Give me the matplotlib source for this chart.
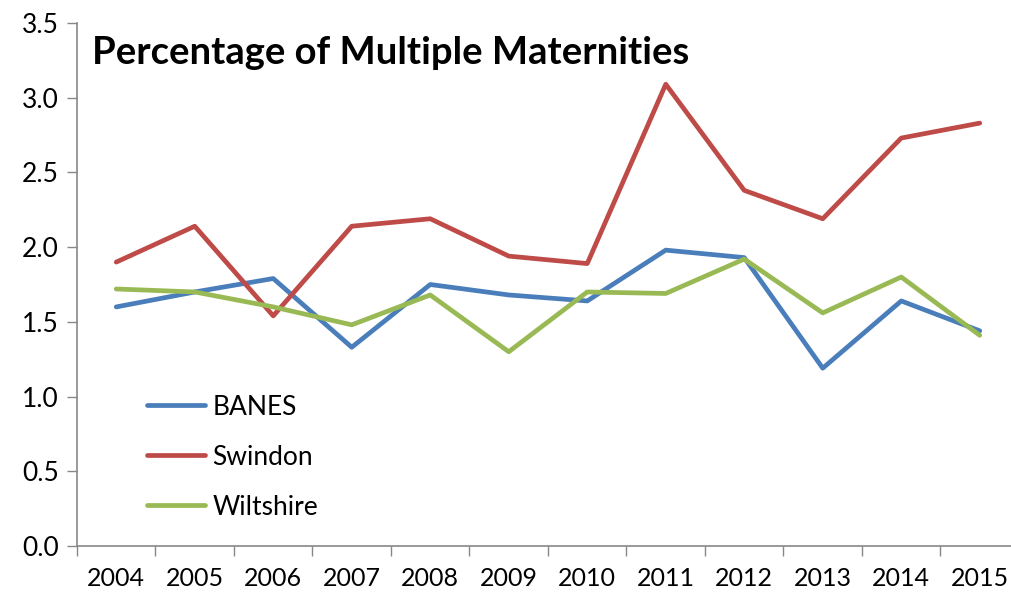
import matplotlib
matplotlib.use("Agg")
import matplotlib.pyplot as plt
import numpy as np

years = ["2004", "2005", "2006", "2007", "2008", "2009", "2010", "2011", "2012", "2013", "2014", "2015"]
banes = [1.60, 1.70, 1.79, 1.33, 1.75, 1.68, 1.64, 1.98, 1.93, 1.19, 1.64, 1.44]
swindon = [1.90, 2.14, 1.54, 2.14, 2.19, 1.94, 1.89, 3.09, 2.38, 2.19, 2.73, 2.83]
wiltshire = [1.72, 1.70, 1.60, 1.48, 1.68, 1.30, 1.70, 1.69, 1.92, 1.56, 1.80, 1.41]
series_names = ["BANES", "Swindon", "Wiltshire"]
colors = ["#4A7EBB", "#BE4B48", "#98B954"]

plt.rcParams['font.family'] = ['Lato', 'DejaVu Sans']

W, H = 1012, 594
fig = plt.figure(figsize=(W / 100, H / 100), dpi=100)
left, right, top, bottom = 77, 1019, 23, 546
ax = fig.add_axes([left / W, 1 - bottom / H, (right - left) / W, (bottom - top) / H])

x = np.arange(len(years))
for vals, name, c in zip([banes, swindon, wiltshire], series_names, colors):
    ax.plot(x, vals, color=c, lw=3.4, label=name, solid_capstyle='round', solid_joinstyle='round')

ax.set_xlim(-0.5, len(years) - 0.5)
ax.set_ylim(0, 3.5)
ax.set_yticks(np.arange(0, 3.51, 0.5))
ax.set_yticklabels([f"{v:.1f}" for v in np.arange(0, 3.51, 0.5)], fontsize=19)
ax.set_xticks(x)
ax.set_xticklabels(years, fontsize=18)
ax.tick_params(axis='x', length=0, pad=15)
ax.set_xticks(np.arange(-0.5, len(years), 1), minor=True)
ax.tick_params(axis='x', which='minor', length=7, color='#888888', width=1)
ax.tick_params(axis='y', length=7, color='#888888', width=1, pad=6)

for s in ['top', 'right']:
    ax.spines[s].set_visible(False)
for s in ['left', 'bottom']:
    ax.spines[s].set_color('#888888')
    ax.spines[s].set_linewidth(1.2)

fig.text(92 / W, 1 - 53 / H, "Percentage of Multiple Maternities", fontsize=27.5,
         fontweight='bold', va='center', ha='left')

leg = ax.legend(loc='upper left', bbox_to_anchor=((136 - left) / (right - left), (bottom - 384) / (bottom - top)),
                frameon=False, fontsize=19, handlelength=2.2, handletextpad=0.3, labelspacing=0.95,
                borderaxespad=0)

fig.savefig("out.png", dpi=100)
